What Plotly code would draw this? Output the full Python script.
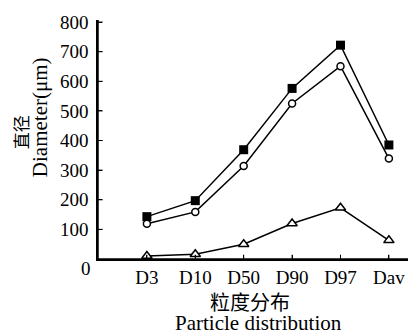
import plotly.graph_objects as go

categories = ["D3", "D10", "D50", "D90", "D97", "Dav"]
series_square = [143, 197, 369, 576, 722, 385]
series_circle = [119, 159, 314, 525, 651, 339]
series_triangle = [10, 16, 50, 120, 173, 63]
y_ticks = [100, 200, 300, 400, 500, 600, 700, 800]

serif = "Liberation Serif"
cjk = "Noto Sans CJK SC"
x = list(range(len(categories)))

fig = go.Figure()
fig.add_trace(go.Scatter(x=x, y=series_square, mode="lines+markers",
                         line=dict(color="black", width=1.5),
                         marker=dict(symbol="square", size=9, color="black"),
                         showlegend=False))
fig.add_trace(go.Scatter(x=x, y=series_circle, mode="lines+markers",
                         line=dict(color="black", width=1.5),
                         marker=dict(symbol="circle", size=7, color="white",
                                     line=dict(color="black", width=1.5)),
                         showlegend=False))
fig.add_trace(go.Scatter(x=x, y=series_triangle, mode="lines+markers",
                         line=dict(color="black", width=1.5),
                         marker=dict(symbol="triangle-up", size=9, color="white",
                                     line=dict(color="black", width=1.5)),
                         showlegend=False))

# axis frame and tick marks (decoration, drawn as shapes)
shapes = [
    dict(type="line", xref="paper", yref="paper", x0=0, x1=1, y0=0, y1=0,
         line=dict(color="black", width=1.5)),
    dict(type="line", xref="paper", yref="paper", x0=0, x1=0, y0=0, y1=1,
         line=dict(color="black", width=1.5)),
]
for xv in x:
    shapes.append(dict(type="line", xref="x", yref="paper", x0=xv, x1=xv,
                       y0=0, y1=0.018, line=dict(color="black", width=1)))
for yv in y_ticks:
    shapes.append(dict(type="line", xref="paper", yref="y", x0=0, x1=0.015,
                       y0=yv, y1=yv, line=dict(color="black", width=1)))

fig.update_layout(
    width=408, height=324,
    margin=dict(l=90, r=0, t=12, b=73),
    plot_bgcolor="white", paper_bgcolor="white",
    font=dict(family=serif, size=19, color="black"),
    shapes=shapes,
    xaxis=dict(range=[-1.01, 5.56], tickvals=x, ticktext=categories,
               ticks="inside", ticklen=4, tickcolor="#000000", tickwidth=1,
               showline=True, linecolor="#000000", linewidth=1.5,
               showgrid=False, zeroline=False, ticklabelstandoff=0,
               tickfont=dict(family=serif, size=19)),
    yaxis=dict(range=[0, 807], tickvals=y_ticks,
               ticks="inside", ticklen=4, tickcolor="#000000", tickwidth=1,
               showline=True, linecolor="#000000", linewidth=1.5,
               showgrid=False, zeroline=False, ticklabelstandoff=4,
               tickfont=dict(family=serif, size=19)),
    annotations=[
        dict(text="0", xref="paper", yref="paper", x=-0.016, y=-0.038,
             xanchor="right", yanchor="middle", showarrow=False,
             font=dict(family=serif, size=19)),
        dict(text="直径", xref="paper", yref="paper", x=-0.245, y=0.531,
             textangle=-90, xanchor="center", yanchor="middle", showarrow=False,
             font=dict(family=cjk, size=17)),
        dict(text="Diameter(μm)", xref="paper", yref="paper", x=-0.182, y=0.594,
             textangle=-90, xanchor="center", yanchor="middle", showarrow=False,
             font=dict(family=serif, size=21)),
        dict(text="粒度分布", xref="paper", yref="paper", x=0.478, y=-0.178,
             xanchor="center", yanchor="middle", showarrow=False,
             font=dict(family=cjk, size=20)),
        dict(text="Particle distribution", xref="paper", yref="paper", x=0.506, y=-0.266,
             xanchor="center", yanchor="middle", showarrow=False,
             font=dict(family=serif, size=21)),
    ],
)

fig.write_html("out.html")
